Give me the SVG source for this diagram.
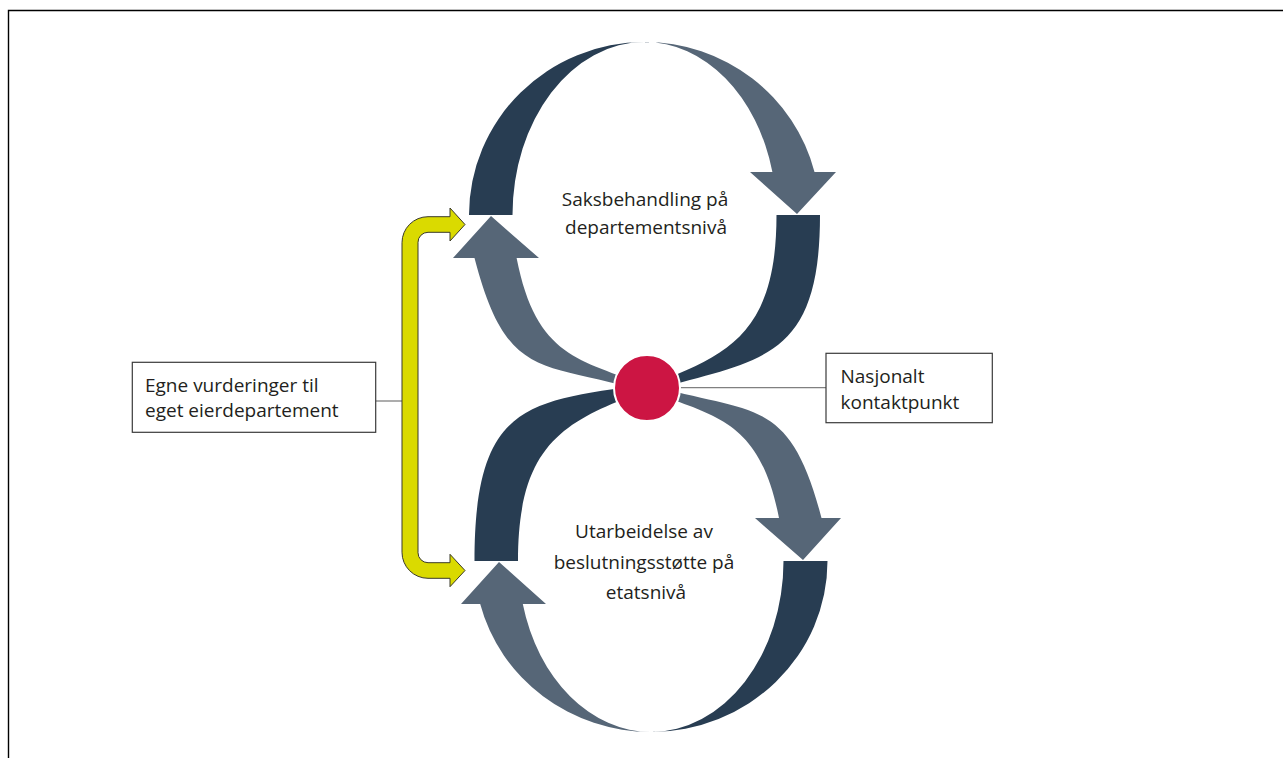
<svg xmlns="http://www.w3.org/2000/svg" width="1283" height="758" viewBox="0 0 1283 758">
<style>
.dark{fill:#283d52}
.grey{fill:#566677}
.lbl{font-family:"Open Sans","Noto Sans","Liberation Sans",sans-serif;font-size:19px;fill:#231f20}
.box{fill:#fff;stroke:#3a3a3a;stroke-width:1.2}
.conn{stroke:#808080;stroke-width:1.3;fill:none}
</style>
<rect x="0" y="0" width="1283" height="758" fill="#fff"/>
<path d="M8.5,758 V10.5 H1283" fill="none" stroke="#000" stroke-width="1.4"/>
<g id="upper-loop">
<path class="dark" d="M469,215 A175.5 173 0 0 1 644.5,42 A132 173 0 0 0 512.5,215 Z"/>
<path class="grey" d="M644.5,42 A175.5 173 0 0 1 814.5,172 L836,172 L797,214 L750,172 L772.4,172 A132 173 0 0 0 644.5,42 Z"/>
<path class="dark" d="M776.5,215 L820,215 C820,365 757,359 647,392 L647,386 C727,355.6 776.5,335 776.5,215 Z"/>
<path class="grey" d="M647,392 C542,360.5 507,383 474.5,258 L453,258 L491,216 L539,258 L516.6,258 C536.2,358 580.4,359.4 647,386 Z"/>
<text class="lbl" text-anchor="middle"><tspan x="645" y="206">Saksbehandling på</tspan><tspan x="646" y="234.3">departementsnivå</tspan></text>
</g>
<g id="lower-loop">
<path class="dark" d="M474.5,561 C474.5,400 530,402 647,384 L647,390 C567,420.4 518,441 518,561 Z"/>
<path class="grey" d="M647,384 C752,415.5 789,393 821.5,518 L841,518 L803,560 L755,518 L779,518 C759.5,418 713.6,416.6 647,390 Z"/>
<path class="dark" d="M783.5,561 L827.5,561 A176.5 171 0 0 1 651,732 A132.5 171 0 0 0 783.5,561 Z"/>
<path class="grey" d="M651,732 A176.5 171 0 0 1 480.2,604 L461,604 L499,562 L546,604 L522.8,604 A132.5 171 0 0 0 651,732 Z"/>
<text class="lbl" text-anchor="middle"><tspan x="644" y="538.3">Utarbeidelse av</tspan><tspan x="644" y="569">beslutningsstøtte på</tspan><tspan x="646" y="598.7">etatsnivå</tspan></text>
</g>
<g id="connectors">
<line class="conn" x1="375.7" y1="401" x2="402" y2="401"/>
<line class="conn" x1="680" y1="387.7" x2="826" y2="387.7"/>
</g>
<g id="contact-point">
<circle cx="647" cy="388" r="33" fill="#cc1543" stroke="#fff" stroke-width="2"/>
</g>
<g id="bracket-arrow">
<path d="M402,242.7 A26 26 0 0 1 428,216.7 L450,216.7 L450,208 L465,224.5 L450,241 L450,232.3 L428,232.3 A10 10 0 0 0 418,242.3 L418,552.7 A10 10 0 0 0 428,562.7 L450,562.7 L450,554.3 L465,570.5 L450,586.7 L450,578.3 L428,578.3 A26 26 0 0 1 402,552.3 Z" fill="#dada00" stroke="#3a3a2a" stroke-width="1"/>
</g>
<g id="egne-vurderinger">
<rect class="box" x="132.3" y="362.3" width="243.4" height="70"/>
<text class="lbl"><tspan x="145" y="391.7">Egne vurderinger til</tspan><tspan x="145" y="417.3">eget eierdepartement</tspan></text>
</g>
<g id="nasjonalt-kontaktpunkt">
<rect class="box" x="826" y="353.3" width="166.3" height="69.4"/>
<text class="lbl"><tspan x="840.5" y="383.3">Nasjonalt</tspan><tspan x="840.5" y="409">kontaktpunkt</tspan></text>
</g>
</svg>
